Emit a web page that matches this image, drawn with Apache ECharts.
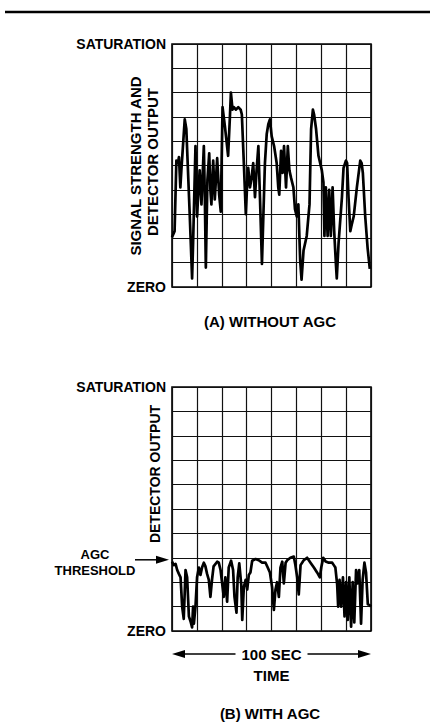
<!DOCTYPE html>
<html>
<head>
<meta charset="utf-8">
<script src="https://cdn.jsdelivr.net/npm/echarts@6/dist/echarts.min.js"></script>
<style>
html, body { margin: 0; padding: 0; background: #fff; }
#chart { width: 430px; height: 723px; }
</style>
</head>
<body>
<div id="chart"></div>
<script>
// (A) without AGC: time in seconds, level in grid divisions (0 = zero, 10 = saturation)
var topTime = [0, 1.3, 2.2, 3.0, 3.5, 4.2, 4.7, 6.4, 7.2, 8.9, 10.1, 10.6, 11.8, 12.6, 13.1, 13.9, 14.8, 16.0, 16.5, 17.0,
    17.8, 18.7, 19.3, 19.8, 20.7, 21.5, 22.7, 23.7, 24.5, 25.4, 26.6, 27.4, 28.2, 29.1, 29.6, 30.4, 31.1, 32.1, 33.3, 34.5,
    35.1, 36.1, 37.1, 37.8, 38.3, 39.2, 40.0, 40.8, 41.7, 42.5, 43.4, 44.2, 45.2, 45.9, 46.7, 47.6, 48.4, 49.2, 50.1, 51.3,
    52.6, 53.4, 53.9, 54.8, 55.6, 56.3, 57.3, 58.2, 59.0, 59.8, 61.0, 61.8, 62.7, 63.5, 64.4, 65.1, 66.1, 67.7, 69.1, 69.9,
    70.8, 71.4, 72.4, 73.6, 75.3, 76.1, 76.6, 77.3, 78.2, 79.0, 79.8, 80.7, 81.5, 82.4, 82.8, 83.7, 85.4, 86.2, 87.4, 88.0,
    88.7, 89.6, 90.4, 91.3, 92.9, 94.6, 95.3, 95.9, 97.1, 98.3, 99.4];
var topLevel = [2.05, 2.3, 5.2, 5.1, 5.35, 4.1, 4.8, 6.9, 6.5, 3.0, 0.35, 1.8, 5.8, 2.9, 3.7, 4.8, 3.4, 5.8, 3.7, 0.8,
    4.4, 5.5, 4.0, 3.4, 5.2, 3.6, 5.3, 3.8, 3.1, 7.4, 6.6, 6.0, 5.4, 7.0, 8.0, 7.3, 7.4, 7.3, 7.4, 7.3,
    7.1, 5.1, 3.0, 4.3, 4.9, 4.1, 4.5, 5.1, 3.7, 4.8, 5.8, 3.7, 0.95, 2.9, 5.1, 6.3, 6.7, 6.9, 6.2, 5.8,
    5.1, 4.1, 3.8, 5.6, 4.7, 5.8, 4.1, 5.8, 4.8, 4.5, 4.1, 3.2, 2.9, 3.4, 1.1, 0.3, 1.5, 2.1, 3.4, 6.5,
    7.3, 7.1, 6.5, 5.4, 4.8, 4.3, 2.1, 4.1, 2.1, 4.0, 2.1, 4.1, 2.3, 0.9, 0.35, 1.8, 3.7, 4.9, 5.2, 5.1,
    3.7, 2.3, 2.6, 2.9, 4.1, 5.2, 5.1, 4.7, 2.9, 1.6, 0.75];

// (B) with AGC
var agcTime = [0, 0.9, 1.8, 2.6, 3.4, 4.3, 5.1, 5.9, 6.4, 6.8, 7.6, 8.5, 9.3, 10.1, 10.6, 11.0, 11.8, 12.6, 13.5, 14.3,
    15.1, 16.0, 16.8, 17.6, 18.5, 19.3, 20.1, 20.9, 22.7, 23.5, 24.4, 25.2, 26.0, 26.8, 27.7, 28.5, 29.7, 30.7, 31.4, 32.4,
    33.0, 33.8, 34.8, 35.3, 36.1, 37.0, 37.8, 38.6, 39.4, 40.3, 42.0, 43.6, 45.3, 47.0, 48.1, 49.2, 50.3, 51.2, 52.0, 52.8,
    53.7, 54.5, 55.4, 56.2, 57.1, 57.9, 59.5, 61.2, 62.0, 62.9, 63.7, 64.6, 66.2, 67.9, 69.6, 71.3, 72.9, 74.3, 75.0, 76.0,
    77.2, 78.8, 80.5, 81.3, 82.1, 83.0, 83.5, 84.2, 85.0, 85.9, 86.7, 87.5, 88.3, 89.1, 90.0, 90.8, 91.6, 92.5, 93.3, 94.1,
    95.0, 95.8, 96.7, 97.5, 98.4, 99.2, 100];
var agcLevel = [2.84, 2.7, 2.75, 2.5, 2.35, 2.2, 1.0, 0.5, 1.6, 2.5, 2.2, 0.6, 0.4, 0.15, 1.0, 0.3, 1.0, 2.2, 2.6, 2.3,
    2.6, 2.8, 2.65, 2.35, 2.1, 1.4, 2.1, 2.65, 2.84, 2.8, 2.5, 1.95, 1.4, 2.2, 1.2, 2.6, 2.88, 2.5, 1.4, 0.75,
    2.2, 2.77, 1.9, 0.45, 1.8, 2.1, 1.7, 2.3, 2.4, 2.88, 2.95, 2.9, 2.8, 2.8, 2.6, 2.4, 1.8, 0.86, 1.7, 2.0,
    1.4, 2.6, 2.84, 1.95, 2.8, 2.9, 3.0, 3.05, 2.7, 2.2, 1.5, 2.7, 2.9, 3.0, 2.8, 2.6, 2.4, 2.2, 2.6, 3.0,
    2.85, 2.8, 2.8, 2.7, 2.6, 1.9, 1.0, 2.1, 1.0, 2.2, 0.6, 2.0, 0.45, 2.2, 0.18, 2.0, 0.35, 2.5, 1.95, 2.5,
    0.3, 2.1, 2.8, 2.4, 1.1, 1.07, 1.0];

var levelNames = ['ZERO', 'SATURATION'];
var agcThreshold = 3;
var spanLabel = '100 SEC';

var FONT = '"Liberation Sans", Arial, sans-serif';

function pairs(xs, ys) {
    var out = [];
    for (var i = 0; i < xs.length; i++) out.push([xs[i], ys[i]]);
    return out;
}

function levelLabel(v) {
    if (v === 0) return levelNames[0];
    if (v === 10) return levelNames[1];
    return '';
}

var gridLine = { lineStyle: { color: '#111', width: 1.2 } };

var xAxisBase = {
    type: 'value', min: 0, max: 100, interval: 12.5,
    axisLine: { show: false }, axisTick: { show: false }, axisLabel: { show: false },
    splitLine: gridLine
};
var yAxisBase = {
    type: 'value', min: 0, max: 10, interval: 1,
    axisLine: { show: false }, axisTick: { show: false },
    axisLabel: {
        formatter: levelLabel, margin: 6, color: '#000',
        fontFamily: FONT, fontWeight: 'bold', fontSize: 14,
        showMinLabel: true, showMaxLabel: true
    },
    splitLine: gridLine
};

var chart = echarts.init(document.getElementById('chart'), null, { renderer: 'svg' });

var option = {
    animation: false,
    backgroundColor: '#fff',
    grid: [
        { left: 172, top: 44, width: 199, height: 243, show: true, borderColor: '#000', borderWidth: 1.6 },
        { left: 172, top: 387, width: 199, height: 244, show: true, borderColor: '#000', borderWidth: 1.6 }
    ],
    xAxis: [
        Object.assign({ gridIndex: 0 }, xAxisBase),
        Object.assign({ gridIndex: 1 }, xAxisBase)
    ],
    yAxis: [
        Object.assign({ gridIndex: 0 }, yAxisBase),
        Object.assign({ gridIndex: 1 }, yAxisBase)
    ],
    series: [
        {
            type: 'line', xAxisIndex: 0, yAxisIndex: 0,
            data: pairs(topTime, topLevel),
            showSymbol: false, lineStyle: { color: '#000', width: 2.7, join: 'round' }
        },
        {
            type: 'line', xAxisIndex: 1, yAxisIndex: 1,
            data: pairs(agcTime, agcLevel),
            showSymbol: false, lineStyle: { color: '#000', width: 2.7, join: 'round' }
        }
    ]
};
chart.setOption(option);

// annotations placed from the axes
var thr = chart.convertToPixel({ gridIndex: 1 }, [0, agcThreshold]);
var left1 = chart.convertToPixel({ gridIndex: 1 }, [0, 0]);
var right1 = chart.convertToPixel({ gridIndex: 1 }, [100, 0]);
var arrowY = left1[1] + 23;
var midX = (left1[0] + right1[0]) / 2;

function txt(x, y, s, size, rot) {
    return {
        type: 'text', x: x, y: y, rotation: rot || 0,
        style: {
            text: s, fill: '#000', font: 'bold ' + size + 'px ' + FONT,
            textAlign: 'center', textVerticalAlign: 'middle'
        }
    };
}
function head(tipX, y, dir) {
    return {
        type: 'polygon',
        shape: { points: [[tipX, y], [tipX - dir * 13, y - 4], [tipX - dir * 13, y + 4]] },
        style: { fill: '#000' }
    };
}
function seg(x1, y1, x2, y2, w) {
    return { type: 'line', shape: { x1: x1, y1: y1, x2: x2, y2: y2 }, style: { stroke: '#000', lineWidth: w } };
}

chart.setOption({
    graphic: [
        seg(5, 12, 430, 12, 2.5),
        txt(135, 166, 'SIGNAL STRENGTH AND', 15, Math.PI / 2),
        txt(152, 162, 'DETECTOR OUTPUT', 15, Math.PI / 2),
        txt(270, 321, '(A) WITHOUT AGC', 15),
        txt(155, 474, 'DETECTOR OUTPUT', 14, Math.PI / 2),
        txt(95, thr[1] - 3, 'AGC', 13),
        txt(95, thr[1] + 13, 'THRESHOLD', 13),
        seg(135, thr[1] + 2, 160, thr[1] + 2, 1.5),
        head(169, thr[1] + 2, 1),
        seg(left1[0] + 8, arrowY, midX - 36, arrowY, 1.5),
        seg(midX + 36, arrowY, right1[0] - 8, arrowY, 1.5),
        head(left1[0], arrowY, -1),
        head(right1[0], arrowY, 1),
        txt(midX, arrowY, spanLabel, 15),
        txt(midX, arrowY + 21, 'TIME', 15),
        txt(270, 713, '(B) WITH AGC', 15)
    ]
});
</script>
</body>
</html>
